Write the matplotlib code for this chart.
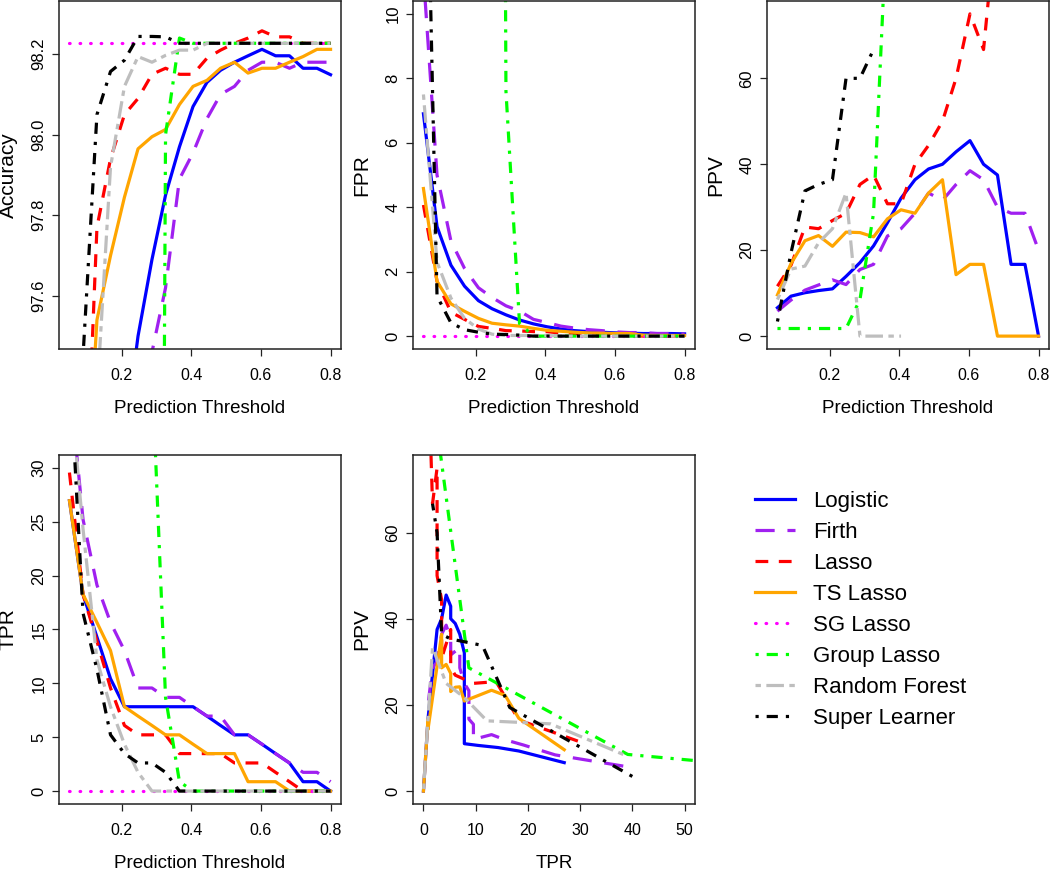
import numpy as np
import matplotlib
matplotlib.use("Agg")
import matplotlib.pyplot as plt

nan = np.nan

plt.rcParams['font.family'] = ['Liberation Sans', 'DejaVu Sans']

thresholds = [0.05, 0.089, 0.129, 0.168, 0.208, 0.247, 0.287, 0.326, 0.366, 0.405,
              0.445, 0.484, 0.524, 0.563, 0.603, 0.642, 0.682, 0.721, 0.761, 0.8]

methods = ["Logistic", "Firth", "Lasso", "TS Lasso", "SG Lasso",
           "Group Lasso", "Random Forest", "Super Learner"]

# accuracy (%)
acc_logistic = [91.9, 95.4, 96.2, 96.87, 97.24, 97.5, 97.69, 97.85, 97.97, 98.07,
                98.13, 98.16, 98.18, 98.196, 98.212, 98.196, 98.196, 98.165, 98.165, 98.149]
acc_firth = [87.9, 93.8, 95.7, 96.45, 97.0, 97.15, 97.46, 97.62, 97.89, 97.955,
             98.04, 98.1, 98.12, 98.16, 98.18, 98.18, 98.165, 98.18, 98.18, 98.18]
acc_lasso = [94.76, 96.92, 97.77, 97.94, 98.05, 98.09, 98.15, 98.165, 98.15, 98.15,
             98.19, 98.21, 98.227, 98.24, 98.258, 98.243, 98.243, 98.227, 98.227, 98.227]
acc_tslasso = [94.2, 96.96, 97.54, 97.7, 97.845, 97.965, 97.995, 98.013, 98.075, 98.12,
               98.135, 98.165, 98.18, 98.153, 98.165, 98.165, 98.18, 98.194, 98.212, 98.212]
acc_sglasso = [98.227, 98.227, 98.227, 98.227, 98.227, 98.227, 98.227, 98.227, 98.227, 98.227,
               98.227, 98.227, 98.227, 98.227, 98.227, 98.227, 98.227, 98.227, 98.227, 98.227]
acc_grouplasso = [1.77, 1.77, 1.77, 1.77, 1.77, 1.77, 91.5, 98.0, 98.24, 98.227,
                  98.227, 98.227, 98.227, 98.227, 98.227, 98.227, 98.227, 98.227, 98.227, 98.227]
acc_rf = [91.6, 96.33, 97.35, 97.92, 98.12, 98.194, 98.18, 98.197, 98.21, 98.21,
          98.227, 98.227, 98.227, 98.227, 98.227, 98.227, 98.227, 98.227, 98.227, 98.227]
acc_sl = [78.0, 97.45, 98.05, 98.157, 98.185, 98.244, 98.244, 98.243, 98.227, 98.227,
          98.227, 98.227, 98.227, 98.227, 98.227, 98.227, 98.227, 98.227, 98.227, 98.227]

# false positive rate (%)
fpr_logistic = [6.9, 3.4, 2.2, 1.55, 1.1, 0.85, 0.66, 0.5, 0.38, 0.29,
                0.22, 0.17, 0.14, 0.12, 0.1, 0.09, 0.08, 0.08, 0.08, 0.07]
fpr_firth = [11.2, 5.0, 2.95, 2.1, 1.5, 1.2, 0.94, 0.78, 0.52, 0.42,
             0.31, 0.25, 0.2, 0.17, 0.13, 0.11, 0.11, 0.08, 0.08, 0.06]
fpr_lasso = [4.07, 1.7, 0.74, 0.52, 0.3, 0.24, 0.17, 0.16, 0.14, 0.14,
             0.09, 0.08, 0.05, 0.03, 0.02, 0.02, 0.0, 0.0, 0.0, 0.0]
fpr_tslasso = [4.58, 1.7, 1.0, 0.77, 0.55, 0.4, 0.35, 0.31, 0.24, 0.18,
               0.15, 0.12, 0.1, 0.09, 0.08, 0.08, 0.03, 0.02, 0.02, 0.02]
fpr_sglasso = [0.0, 0.0, 0.0, 0.0, 0.0, 0.0, 0.0, 0.0, 0.0, 0.0,
               0.0, 0.0, 0.0, 0.0, 0.0, 0.0, 0.0, 0.0, 0.0, 0.0]
fpr_grouplasso = [100.0, 100.0, 100.0, 100.0, 100.0, 100.0, 7.6, 0.39, 0.0, 0.0,
                  0.0, 0.0, 0.0, 0.0, 0.0, 0.0, 0.0, 0.0, 0.0, 0.0]
fpr_rf = [7.5, 2.3, 1.18, 0.55, 0.22, 0.06, 0.02, 0.02, 0.02, 0.02,
          0.0, 0.0, 0.0, 0.0, 0.0, 0.0, 0.0, 0.0, 0.0, 0.0]
fpr_sl = [20.5, 1.24, 0.41, 0.2, 0.12, 0.06, 0.05, 0.03, 0.0, 0.0,
          0.0, 0.0, 0.0, 0.0, 0.0, 0.0, 0.0, 0.0, 0.0, 0.0]

# true positive rate (%)
tpr_logistic = [26.96, 18.26, 14.3, 10.43, 7.83, 7.83, 7.83, 7.83, 7.83, 7.83,
                6.96, 6.09, 5.22, 5.22, 4.35, 3.48, 2.61, 0.87, 0.87, 0.0]
tpr_firth = [38.26, 25.22, 19.13, 15.65, 13.04, 9.57, 9.57, 8.7, 8.7, 7.83,
             6.96, 6.96, 5.22, 5.22, 4.35, 3.48, 2.61, 1.74, 1.74, 0.87]
tpr_lasso = [29.57, 18.26, 13.91, 9.57, 6.09, 5.22, 5.22, 5.22, 3.48, 3.48,
             3.48, 3.48, 2.61, 2.61, 2.61, 1.74, 0.87, 0.0, 0.0, 0.0]
tpr_tslasso = [26.96, 18.26, 15.65, 13.04, 7.83, 6.96, 6.09, 5.22, 5.22, 4.35,
               3.48, 3.48, 3.48, 0.87, 0.87, 0.87, 0.0, 0.0, 0.0, 0.0]
tpr_sglasso = [0.0, 0.0, 0.0, 0.0, 0.0, 0.0, 0.0, 0.0, 0.0, 0.0,
               0.0, 0.0, 0.0, 0.0, 0.0, 0.0, 0.0, 0.0, 0.0, 0.0]
tpr_grouplasso = [100.0, 100.0, 100.0, 100.0, 100.0, 100.0, 39.13, 8.7, 0.87, 0.0,
                  0.0, 0.0, 0.0, 0.0, 0.0, 0.0, 0.0, 0.0, 0.0, 0.0]
tpr_rf = [38.26, 24.35, 12.17, 7.83, 4.35, 1.74, 0.0, 0.0, 0.0, 0.0,
          0.0, 0.0, 0.0, 0.0, 0.0, 0.0, 0.0, 0.0, 0.0, 0.0]
tpr_sl = [40.0, 16.52, 11.3, 5.22, 3.48, 2.61, 2.61, 1.74, 0.0, 0.0,
          0.0, 0.0, 0.0, 0.0, 0.0, 0.0, 0.0, 0.0, 0.0, 0.0]

# positive predictive value (%)
ppv_logistic = [6.6, 9.3, 10.1, 10.6, 11.0, 13.9, 17.1, 21.0, 26.4, 32.1,
                36.4, 38.9, 40.0, 42.9, 45.5, 40.0, 37.5, 16.7, 16.7, 0.0]
ppv_firth = [5.8, 8.4, 10.7, 11.9, 13.1, 12.0, 15.5, 16.7, 23.3, 25.0,
             28.6, 33.3, 31.6, 35.3, 38.5, 36.4, 30.0, 28.6, 28.6, 20.0]
ppv_lasso = [11.6, 16.5, 25.4, 25.0, 26.9, 28.6, 35.3, 37.5, 30.8, 30.8,
             40.0, 44.4, 50.0, 60.0, 75.0, 66.7, 100.0, nan, nan, nan]
ppv_tslasso = [9.6, 16.9, 22.2, 23.4, 20.9, 24.2, 24.1, 23.1, 27.3, 29.4,
               28.6, 33.3, 36.4, 14.3, 16.7, 16.7, 0.0, 0.0, 0.0, 0.0]
ppv_sglasso = [nan, nan, nan, nan, nan, nan, nan, nan, nan, nan,
               nan, nan, nan, nan, nan, nan, nan, nan, nan, nan]
ppv_grouplasso = [1.77, 1.77, 1.77, 1.77, 1.77, 1.77, 8.5, 28.6, 100.0, nan,
                  nan, nan, nan, nan, nan, nan, nan, nan, nan, nan]
ppv_rf = [8.5, 15.6, 16.3, 21.7, 25.0, 33.3, 0.0, 0.0, 0.0, 0.0,
          nan, nan, nan, nan, nan, nan, nan, nan, nan, nan]
ppv_sl = [3.4, 19.4, 33.8, 35.3, 36.4, 60.0, 60.0, 66.7, nan, nan,
          nan, nan, nan, nan, nan, nan, nan, nan, nan, nan]

acc = [acc_logistic, acc_firth, acc_lasso, acc_tslasso, acc_sglasso, acc_grouplasso, acc_rf, acc_sl]
fpr = [fpr_logistic, fpr_firth, fpr_lasso, fpr_tslasso, fpr_sglasso, fpr_grouplasso, fpr_rf, fpr_sl]
tpr = [tpr_logistic, tpr_firth, tpr_lasso, tpr_tslasso, tpr_sglasso, tpr_grouplasso, tpr_rf, tpr_sl]
ppv = [ppv_logistic, ppv_firth, ppv_lasso, ppv_tslasso, ppv_sglasso, ppv_grouplasso, ppv_rf, ppv_sl]

colors = ["#0000FF", "#A020F0", "#FF0000", "#FFA500", "#FF00FF", "#00FF00", "#BEBEBE", "#000000"]
# dash patterns in units of line width (None = solid)
dashes = [None, (6.0, 4.0), (4.0, 3.3), None, (0.2, 3.1),
          (1.0, 2.5, 3.5, 2.5), (1.7, 1.7, 5.5, 1.7), (1.0, 2.5, 3.5, 2.5)]
LW = 2.3


def padded(lo, hi):
    # R style 4% axis extension
    r = hi - lo
    return lo - 0.04 * r, hi + 0.04 * r


W, H = 1050.0, 872.0
lefts = [59, 413, 767]
panels = [
    # (col, row, x series, y series, xlim, ylim, xticks, xfmt, yticks, yfmt, xlabel, ylabel)
    (0, 0, None, acc, (0.05, 0.8), (97.5, 98.3), [0.2, 0.4, 0.6, 0.8], "%.1f",
     [97.6, 97.8, 98.0, 98.2], "%.1f", "Prediction Threshold", "Accuracy"),
    (1, 0, None, fpr, (0.05, 0.8), (0, 10), [0.2, 0.4, 0.6, 0.8], "%.1f",
     [0, 2, 4, 6, 8, 10], "%d", "Prediction Threshold", "FPR"),
    (2, 0, None, ppv, (0.05, 0.8), (0, 75), [0.2, 0.4, 0.6, 0.8], "%.1f",
     [0, 20, 40, 60], "%d", "Prediction Threshold", "PPV"),
    (0, 1, None, tpr, (0.05, 0.8), (0, 30), [0.2, 0.4, 0.6, 0.8], "%.1f",
     [0, 5, 10, 15, 20, 25, 30], "%d", "Prediction Threshold", "TPR"),
    (1, 1, tpr, ppv, (0, 50), (0, 75), [0, 10, 20, 30, 40, 50], "%d",
     [0, 20, 40, 60], "%d", "TPR", "PPV"),
]

fig = plt.figure(figsize=(10.5, 8.72), dpi=100)
handles = None
for col, row, xs, ys, xl, yl, xt, xf, yt, yf, xlab, ylab in panels:
    top_px, bot_px = (1, 349) if row == 0 else (455, 804)
    ax = fig.add_axes([lefts[col] / W, (H - bot_px) / H, 282 / W, (bot_px - top_px) / H])
    lines = []
    for i in range(len(methods)):
        x = thresholds if xs is None else xs[i]
        ln, = ax.plot(x, ys[i], color=colors[i], lw=LW, label=methods[i])
        if dashes[i] is not None:
            ln.set_dashes(dashes[i])
            ln.set_dash_capstyle('round' if i == 4 else 'butt')
        lines.append(ln)
    if handles is None:
        handles = lines
    ax.set_xlim(*padded(*xl))
    ax.set_ylim(*padded(*yl))
    ax.set_xticks(xt, [xf % v for v in xt])
    ax.set_yticks(yt, [yf % v for v in yt])
    ax.tick_params(direction='out', length=5, width=0.9, color='#222222')
    ax.tick_params(axis='x', labelsize=11.5, pad=8.5)
    ax.tick_params(axis='y', labelsize=12, pad=4)
    for lab in ax.get_yticklabels():
        lab.set_rotation(90)
        lab.set_va('center')
    for sp in ax.spines.values():
        sp.set_linewidth(1.1)
        sp.set_color('#222222')
    ax.set_xlabel(xlab, fontsize=13.5, va='center')
    ax.xaxis.set_label_coords(0.5, -59 / (bot_px - top_px))
    ax.set_ylabel(ylab, fontsize=15, va='center')
    ax.yaxis.set_label_coords(-51 / 282, 0.5)

fig.legend(handles, methods, loc='upper left', bbox_to_anchor=(755 / W, (H - 491) / H),
           frameon=False, fontsize=16, handlelength=1.8, handletextpad=0.8,
           labelspacing=0.45, borderpad=0, borderaxespad=0)

fig.savefig("out.png", dpi=100)
